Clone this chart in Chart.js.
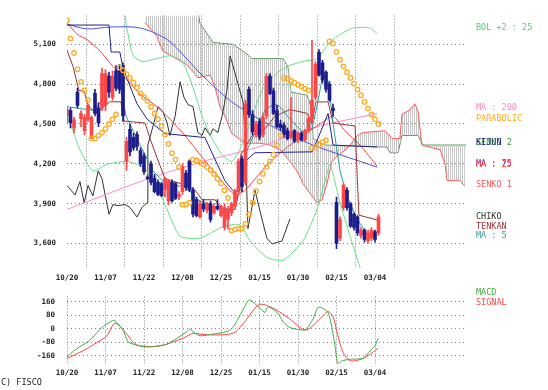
<!DOCTYPE html>
<html>
<head>
<meta charset="utf-8">
<script src="https://cdn.jsdelivr.net/npm/chart.js@4.4.1/dist/chart.umd.min.js"></script>
<style>
html, body { margin: 0; padding: 0; background: #fff; }
#wrap { position: relative; width: 548px; height: 390px; overflow: hidden; }
#main { position: absolute; left: 0; top: 0; }
#macd { position: absolute; left: 0; top: 280px; }
</style>
</head>
<body>
<div id="wrap">
  <canvas id="main" width="548" height="290"></canvas>
  <canvas id="macd" width="548" height="110"></canvas>
</div>
<script>
// x axis = bar index (0 = 10/20), 26 bars of ichimoku cloud beyond the last candle
const dateTicks = [0, 11, 22, 33, 44, 55, 66, 77, 88];
const dateLabels = ['10/20', '11/07', '11/22', '12/08', '12/25', '01/15', '01/30', '02/15', '03/04'];
const priceTicks = [3600, 3900, 4200, 4500, 4800, 5100];
const macdTicks = [-160, -80, 0, 80, 160];

// candles
const candleOpen = [4560, 4600, 4470, 4740, 4540, 4450, 4530, 4400, 4730, 4620,
  4620, 4640, 4860, 4700, 4900, 4900, 4940, 4220, 4460, 4400,
  4420, 4300, 4260, 4100, 4200, 4090, 4060, 4050, 4010, 3920,
  4060, 4050, 3950, 3990, 4130, 4220, 4000, 3930, 3800, 3900,
  3850, 3900, 3830, 3880, 3810, 3720, 3780, 3830, 3880, 3990,
  4240, 4060, 4760, 4570, 4420, 4520, 4420, 4560, 4860, 4750,
  4600, 4500, 4490, 4450, 4400, 4450, 4380, 4430, 4380, 4450,
  4540, 4700, 5040, 4960, 4890, 4800, 4620, 3910, 3640, 3870,
  4000, 3900, 3820, 3800, 3660, 3700, 3620, 3640, 3690, 3680];
const candleHigh = [4630, 4620, 4550, 4770, 4600, 4570, 4650, 4560, 4760, 4660,
  4920, 4910, 4890, 4900, 4940, 4950, 4960, 4400, 4500, 4430,
  4440, 4320, 4280, 4110, 4220, 4120, 4080, 4060, 4100, 4080,
  4080, 4060, 3990, 4200, 4150, 4230, 4020, 3950, 3920, 3930,
  3910, 3920, 3900, 3930, 3890, 3900, 3880, 3910, 4010, 4240,
  4260, 4680, 4780, 4600, 4520, 4540, 4570, 4880, 4880, 4770,
  4640, 4530, 4510, 4470, 4700, 4460, 4440, 4440, 4460, 4560,
  5130, 4970, 5060, 4980, 4900, 4820, 4650, 3950, 3800, 4050,
  4020, 3910, 3830, 3810, 3720, 3710, 3700, 3720, 3700, 3820];
const candleLow = [4500, 4470, 4430, 4620, 4480, 4420, 4520, 4390, 4560, 4480,
  4600, 4600, 4700, 4680, 4750, 4730, 4520, 4150, 4260, 4300,
  4300, 4180, 4120, 4080, 4040, 3980, 3960, 3950, 3950, 3890,
  3910, 3930, 3930, 3970, 4000, 3990, 3800, 3800, 3790, 3840,
  3830, 3760, 3820, 3850, 3800, 3700, 3710, 3810, 3860, 3970,
  3990, 4040, 4550, 4420, 4400, 4380, 4400, 4540, 4720, 4570,
  4470, 4450, 4400, 4380, 4390, 4360, 4360, 4370, 4370, 4440,
  4520, 4680, 4860, 4810, 4740, 4670, 4560, 3560, 3620, 3850,
  3850, 3720, 3700, 3660, 3640, 3610, 3600, 3620, 3610, 3660];
const candleClose = [4610, 4510, 4530, 4640, 4580, 4550, 4640, 4550, 4580, 4510,
  4880, 4880, 4740, 4860, 4770, 4760, 4560, 4370, 4290, 4320,
  4330, 4200, 4140, 4090, 4060, 3990, 3970, 3960, 4090, 4070,
  3920, 3940, 3970, 4180, 4020, 4000, 3820, 3810, 3900, 3860,
  3900, 3780, 3880, 3860, 3880, 3870, 3850, 3900, 3990, 4220,
  4030, 4650, 4570, 4440, 4500, 4400, 4550, 4860, 4730, 4580,
  4480, 4470, 4420, 4390, 4440, 4370, 4430, 4380, 4450, 4540,
  4680, 4950, 4870, 4830, 4760, 4680, 4600, 3600, 3780, 4040,
  3870, 3730, 3720, 3680, 3700, 3630, 3680, 3700, 3630, 3800];

// parabolic SAR, one per candle
const sarValues = [5281, 5143, 5035, 4912, 4818, 4753, 4681,
  4391, 4391, 4413, 4435, 4464, 4500, 4536, 4572,
  4926, 4905, 4876, 4847, 4811, 4775, 4731, 4702, 4673, 4630, 4579, 4536, 4485, 4420, 4350, 4280, 4232, 4175,
  3893, 3893, 3907,
  4232, 4225, 4211, 4196, 4175, 4153, 4124, 4088, 4052, 4001, 3943,
  3697, 3705, 3712, 3712, 3748, 3820, 3907, 3994, 4066, 4124, 4175, 4218, 4269, 4341, 4413,
  4847, 4840, 4825, 4811, 4796, 4782, 4767, 4753,
  4319, 4326, 4341, 4363, 4377,
  5122, 5107, 5042, 4984, 4934, 4890, 4847, 4804, 4760, 4717, 4666, 4616, 4572, 4536, 4500];

// moving averages
const ma5X = [0, 3.7, 8, 10, 12.3, 15.1, 16.9, 20.9, 24.6, 28.6, 33.7, 37.4, 42.3, 47.1, 49.4, 50.9, 53.7, 56.6, 59.4, 60.9, 63.7, 67.4, 70, 71.4, 73.1, 74.6, 76, 78, 80, 82.9, 85.7, 88.6];
const ma5Y = [4630, 4616, 4601, 4688, 4775, 4797, 4558, 4341, 4146, 4037, 4030, 3929, 3871, 3856, 4001, 4269, 4435, 4608, 4652, 4630, 4536, 4435, 4464, 4630, 4869, 4825, 4507, 4146, 3958, 3784, 3668, 3668];
const ma25X = [0, 3.1, 5.7, 9.4, 13.1, 17.1, 20.9, 25.7, 29.4, 33.7, 38, 43.7, 48, 50.9, 56.6, 59.4, 63.7, 67.4, 72.3, 76, 79.4, 83.7, 88.6];
const ma25Y = [5259, 5172, 5136, 5050, 4934, 4833, 4724, 4630, 4536, 4413, 4269, 4088, 3965, 4001, 4175, 4247, 4341, 4413, 4500, 4558, 4449, 4341, 4182];
const ma75X = [0, 5.7, 12.3, 20.9, 28.6, 33.7, 38, 47.1, 59.4, 70.3, 88.6];
const ma75Y = [5252, 5216, 5230, 5223, 5136, 5006, 4883, 4666, 4471, 4341, 4175];
const ma200X = [0, 21.7, 38, 54.6, 70.3, 88.6];
const ma200Y = [3856, 4073, 4211, 4326, 4471, 4579];

// bollinger +-2
const bolUpX = [16.6, 17.1, 18.9, 21.7, 29.4, 32.9, 35.7, 38.6, 41.4, 44.3, 47.1, 50, 52.9, 55.7, 59.4, 62.9, 67.4, 71.4, 75.1, 77.1, 81.7, 86.6, 88.6];
const bolUpY = [5317, 5223, 5014, 4970, 5014, 4970, 4797, 4558, 4391, 4269, 4218, 4341, 4558, 4753, 4869, 4934, 4970, 4992, 5115, 5158, 5223, 5223, 5180];
const bolLoX = [0, 1.7, 3.7, 7.4, 11.4, 17.1, 21.7, 25.7, 28.6, 32.3, 38, 44.6, 49.4, 52.3, 57.1, 61.7, 67.4, 71.4, 74.3, 75.1, 76, 78, 80.9, 83.7, 88.6];
const bolLoY = [4558, 4449, 4305, 4146, 4196, 4218, 4175, 4030, 3856, 3654, 3640, 3726, 3741, 3618, 3495, 3473, 3618, 3856, 4124, 4196, 4124, 3907, 3654, 3422, 3039];

// ichimoku
const tenkanX = [0, 1.7, 3.4, 4.9, 6, 8, 12.3, 15.4, 16.3, 22.3, 23.7, 25.7, 28, 32.3, 36.6, 38.6, 42.3, 44.3, 48, 48.9, 49.7, 52.9, 56.6, 59.4, 63.7, 68.6, 70, 71.1, 74.6, 76, 82.3, 83.4, 88.6];
const tenkanY = [5057, 4934, 4753, 4746, 4645, 4580, 4667, 4667, 4522, 4507, 4392, 4247, 4088, 4052, 4001, 3929, 3929, 3856, 3856, 3958, 4269, 4413, 4464, 4558, 4608, 4580, 4507, 4666, 4666, 4507, 4485, 3813, 3777];
const kijunX = [0, 12, 12.6, 15.1, 16, 20, 22.9, 28, 39.4, 45.1, 48, 50, 50.9, 53.7, 70, 71.7, 74.6, 76, 88.6];
const kijunY = [5245, 5245, 5042, 5042, 4919, 4652, 4536, 4427, 4398, 4073, 3979, 4052, 4218, 4283, 4290, 4391, 4579, 4341, 4326];
const chikoX = [0, 2.3, 3.7, 4.9, 6, 7.4, 8.9, 10, 10.9, 12, 13.1, 14.6, 16.6, 18, 20, 21.4, 22.9, 23.1, 24.6, 26,
  27.4, 28.6, 29.4, 30.9, 32.3, 33.4, 34.6, 36, 37.4, 38.6, 39.4, 40.9, 41.7, 43.1, 44.3, 45.7, 46.6, 47.4, 48.9, 50.3,
  50.9, 51.7, 53.1, 53.7, 55.7, 57.1, 58.6, 61.4, 63.7];
const chikoY = [4037, 3965, 4066, 3907, 4037, 3958, 4146, 4088, 3965, 3820, 3893, 3885, 3893, 3871, 3799, 3871, 3907, 4341, 4485, 4630,
  4594, 4507, 4413, 4558, 4818, 4702, 4645, 4630, 4435, 4413, 4471, 4413, 4464, 4435, 4558, 4753, 5013, 4941, 4796, 4666,
  4413, 3712, 3907, 4001, 3784, 3640, 3596, 3618, 3784];
const senko1X = [22.3, 25.7, 27.4, 30.3, 33.7, 35.7, 37.4, 40.9, 42.3, 43.7, 45.4, 47.1, 50.9, 55.1, 58, 60.9, 63.7, 65.7, 67.4, 69.4,
  71.4, 72.9, 74.3, 75.7, 77.1, 78.9, 80.9, 82.9, 84.6, 90.9, 92.9, 95.1, 95.7, 98, 99.4, 100.3, 101.4, 106.6, 108, 108.6, 112.3, 113.7];
const senko1Y = [5266, 5158, 5049, 5006, 4955, 4905, 4847, 4869, 4775, 4630, 4543, 4428, 4355, 4355, 4341, 4305, 4218, 4146, 4052, 3979,
  3907, 3929, 4052, 4218, 4254, 4290, 4341, 4413, 4435, 4449, 4391, 4391, 4572, 4608, 4652, 4594, 4341, 4305, 4196, 4073, 4073, 4030];
const senko2X = [21.7, 36.9, 38, 41.7, 47.4, 51.4, 52.9, 61.7, 63.1, 64, 68.6, 69.7, 70.3, 73.7, 91.4, 92.3, 94.6, 95.7, 100.3, 101.7, 114];
const senko2Y = [5411, 5411, 5259, 5114, 5100, 5028, 4992, 4992, 4934, 4739, 4717, 4630, 4391, 4341, 4326, 4283, 4283, 4413, 4413, 4341, 4341];

// MACD panel
const macdX = [0, 2.9, 5.7, 7.1, 10, 12.9, 13.7, 16, 17.4, 18.9, 21.7, 24.6, 28.6, 31.4, 34.3, 35.1, 36.6, 38, 41.7, 45.7,
  47.4, 48.6, 51.4, 52.3, 55.1, 56.6, 57.4, 60.3, 61.7, 63.7, 68, 70.3, 71.7, 73.1, 74.6, 75.7, 76.6, 77.4, 78.6, 80.9,
  84.6, 86.6, 88, 88.9];
const macdY = [-165, -116, -81, -56, 7, 47, 47, -7, -76, -91, -106, -106, -91, -56, -17, -2, -27, -42, -32, -17,
  7, 47, 155, 170, 121, 96, 130, 91, 42, 7, -7, 57, 126, 121, 96, 7, -106, -205, -189, -180,
  -175, -130, -101, -56];
const signalX = [0, 4.6, 8.6, 11.4, 13.7, 17.1, 18.9, 20.9, 26.6, 33.1, 36, 38, 42.9, 47.4, 49.4, 51.4, 53.1, 55.1, 58.9, 63.7,
  66.6, 68.6, 72.9, 74.6, 76, 77.4, 78.9, 80.9, 84.6, 88.9];
const signalY = [-175, -130, -81, -42, 32, -32, -81, -101, -101, -56, -27, -32, -37, -27, 7, 57, 106, 145, 121, 57,
  7, -7, 71, 101, 71, -42, -140, -189, -175, -116];

const UP = '#ff4646', DOWN = '#1c1c8c';
const TICK_FONT = {family: 'DejaVu Sans Mono', size: 7.5, weight: 'bold'};
const SIDE_FONT = "8.5px 'DejaVu Sans Mono'";
const GRID = '#808080';

function pts(xs, ys) {
  return xs.map((x, k) => ({x: x, y: ys[k]}));
}
function line(data, color, extra) {
  return Object.assign({type: 'line', data: data, borderColor: color, borderWidth: 1,
    pointRadius: 0, fill: false, tension: 0}, extra || {});
}
function sideText(items, extra) {
  return {
    id: 'sideText',
    afterDraw(chart) {
      const c = chart.ctx;
      c.save();
      c.font = SIDE_FONT;
      c.textBaseline = 'middle';
      items.forEach(t => { c.fillStyle = t.color; c.fillText(t.text, t.x, t.y); });
      if (extra) extra(c);
      c.restore();
    }
  };
}
function dateAxis(height, pad) {
  return {
    type: 'linear', min: 0, max: 114, offset: false,
    afterBuildTicks: s => { s.ticks = dateTicks.map(v => ({value: v})); },
    afterFit: s => { s.height = height; },
    ticks: {
      autoSkip: false, maxRotation: 0, padding: pad, font: TICK_FONT, color: '#222',
      callback: v => { const k = dateTicks.indexOf(v); return k >= 0 ? dateLabels[k] : ''; }
    },
    grid: {color: GRID, drawTicks: false},
    border: {display: false, dash: [1, 2]}
  };
}

// hatch for the cloud
const hc = document.createElement('canvas');
hc.width = 2; hc.height = 2;
const hctx = hc.getContext('2d');
hctx.fillStyle = '#c6c6c6';
hctx.fillRect(0, 0, 1, 2);
const hatch = document.getElementById('main').getContext('2d').createPattern(hc, 'repeat');

const idx = candleOpen.map((v, i) => i);
const candleColors = idx.map(i => candleClose[i] >= candleOpen[i] ? UP : DOWN);

new Chart(document.getElementById('main'), {
  type: 'line',
  data: {
    datasets: [
      {type: 'line', data: idx.map(i => ({x: i, y: sarValues[i]})), showLine: false,
        pointRadius: 2.2, pointBorderWidth: 1.3, pointBorderColor: '#ffaa22',
        pointBackgroundColor: 'rgba(0,0,0,0)'},
      {type: 'bar', data: idx.map(i => ({x: i, y: [candleOpen[i], candleClose[i]]})),
        backgroundColor: candleColors, barThickness: 3, grouped: false, minBarLength: 1},
      {type: 'bar', data: idx.map(i => ({x: i, y: [candleLow[i], candleHigh[i]]})),
        backgroundColor: candleColors, barThickness: 1, grouped: false},
      line(pts(ma5X, ma5Y), '#339999'),
      line(pts(tenkanX, tenkanY), '#9a3333'),
      line(pts(kijunX, kijunY), '#22228a'),
      line(pts(ma25X, ma25Y), '#ff3a3a', {tension: 0.2}),
      line(pts(ma75X, ma75Y), '#5050ee', {tension: 0.3}),
      line(pts(ma200X, ma200Y), '#ff88cc', {tension: 0.3}),
      line(pts(bolUpX, bolUpY), '#66dd88', {tension: 0.2}),
      line(pts(bolLoX, bolLoY), '#66dd88', {tension: 0.2}),
      line(pts(chikoX, chikoY), '#333333'),
      line(pts(senko1X, senko1Y), '#ff5a5a', {fill: '+1', backgroundColor: hatch}),
      line(pts(senko2X, senko2Y), '#449944')
    ]
  },
  options: {
    responsive: false,
    animation: false,
    layout: {padding: {left: 0, right: 82, top: 5, bottom: 0}},
    plugins: {legend: {display: false}, tooltip: {enabled: false}},
    scales: {
      x: dateAxis(22, 6),
      y: {
        min: 3415, max: 5317,
        afterBuildTicks: s => { s.ticks = priceTicks.map(v => ({value: v})); },
        afterFit: s => { s.width = 67; },
        ticks: {padding: 11, font: TICK_FONT, color: '#222',
          callback: v => v.toLocaleString('en-US')},
        grid: {color: GRID, drawTicks: false},
        border: {display: false, dash: [1, 3]}
      }
    }
  },
  plugins: [sideText([
    {text: 'BOL +2 : 25', color: '#55cc77', x: 476, y: 28},
    {text: 'MA : 200', color: '#ff88cc', x: 476, y: 108},
    {text: 'PARABOLIC', color: '#ffaa22', x: 476, y: 119},
    {text: 'SENKO 2', color: '#449944', x: 476, y: 143},
    {text: 'KIJUN', color: '#22228a', x: 476, y: 143},
    {text: 'MA : 75', color: '#5050ee', x: 476, y: 164},
    {text: 'MA : 25', color: '#ff3a3a', x: 476, y: 165},
    {text: 'SENKO 1', color: '#ff5a5a', x: 476, y: 185},
    {text: 'CHIKO', color: '#333333', x: 476, y: 217},
    {text: 'TENKAN', color: '#9a3333', x: 476, y: 227},
    {text: 'MA : 5', color: '#339999', x: 476, y: 236}
  ])]
});

new Chart(document.getElementById('macd'), {
  type: 'line',
  data: {
    datasets: [
      line(pts(macdX, macdY), '#44aa44', {tension: 0.2}),
      line(pts(signalX, signalY), '#ff4444', {tension: 0.3})
    ]
  },
  options: {
    responsive: false,
    animation: false,
    layout: {padding: {left: 0, right: 82, top: 3, bottom: 0}},
    plugins: {legend: {display: false}, tooltip: {enabled: false}},
    scales: {
      x: dateAxis(25, 4),
      y: {
        min: -214, max: 190,
        afterBuildTicks: s => { s.ticks = macdTicks.map(v => ({value: v})); },
        afterFit: s => { s.width = 67; },
        ticks: {padding: 12, font: TICK_FONT, color: '#222'},
        grid: {color: GRID, drawTicks: false},
        border: {display: false, dash: [1, 3]}
      }
    }
  },
  plugins: [sideText([
    {text: 'MACD', color: '#44aa44', x: 476, y: 13},
    {text: 'SIGNAL', color: '#ff4444', x: 476, y: 23}
  ], c => {
    c.fillStyle = '#222';
    c.fillText('C) FISCO', 1, 103);
  })]
});
</script>
</body>
</html>
